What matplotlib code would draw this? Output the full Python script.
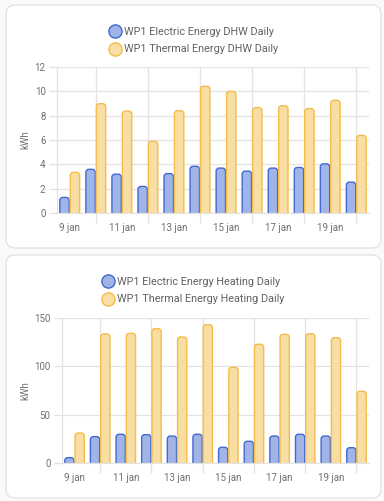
import matplotlib
matplotlib.use("Agg")
import matplotlib.pyplot as plt
from matplotlib.patches import FancyBboxPatch
from matplotlib.lines import Line2D
import numpy as np

plt.rcParams['font.family'] = ['Roboto', 'DejaVu Sans']

days = [9, 10, 11, 12, 13, 14, 15, 16, 17, 18, 19, 20]
tick_days = [9, 11, 13, 15, 17, 19]
tick_labels = ["9 jan", "11 jan", "13 jan", "15 jan", "17 jan", "19 jan"]
grid_days = [10, 12, 14, 16, 18, 20]

dhw_names = ["WP1 Electric Energy DHW Daily", "WP1 Thermal Energy DHW Daily"]
dhw_electric = [1.3, 3.6, 3.2, 2.2, 3.25, 3.85, 3.7, 3.45, 3.7, 3.75, 4.05, 2.55]
dhw_thermal = [3.35, 8.97, 8.37, 5.9, 8.4, 10.4, 9.98, 8.65, 8.8, 8.57, 9.25, 6.38]
dhw_yticks = [0, 2, 4, 6, 8, 10, 12]

heat_names = ["WP1 Electric Energy Heating Daily", "WP1 Thermal Energy Heating Daily"]
heat_electric = [5.8, 27.5, 29.9, 29.5, 28.1, 29.9, 16.5, 22.7, 28.1, 29.9, 28.1, 16.1]
heat_thermal = [31.2, 133.2, 133.9, 138.7, 130.1, 142.8, 98.9, 122.6, 132.9, 133.5, 129.4, 74.2]
heat_yticks = [0, 50, 100, 150]

BLUE_EDGE = "#4269d0"
BLUE_FILL = "#a0b4e7"
ORANGE_EDGE = "#f4bd4a"
ORANGE_FILL = "#f9dea4"
GRID = "#e3e3e3"
TXT = "#6f6f6f"
LEG = "#626262"

W, H = 384, 501
fig = plt.figure(figsize=(W / 100, H / 100), dpi=100)
fig.patch.set_facecolor("#fafafa")


def card(y_top, y_bot):
    p = FancyBboxPatch((6 / 100, (H - y_bot) / 100), 375 / 100, (y_bot - y_top) / 100,
                       boxstyle="round,pad=0,rounding_size=0.09",
                       transform=fig.dpi_scale_trans, facecolor="white",
                       edgecolor="#e2e2e2", linewidth=0.9, zorder=-10)
    fig.patches.append(p)


def panel(left_px, top_px, right_px, bot_px, elec, therm, names, yticks, label_x_px, leg_y):
    ax = fig.add_axes([left_px / W, (H - bot_px) / H, (right_px - left_px) / W, (bot_px - top_px) / H])
    ax.set_facecolor("none")
    ax.set_zorder(1)
    x = np.array(days, dtype=float)
    bw = 0.36
    ax.set_xlim(days[0] - 0.5, days[-1] + 0.5)
    ax.set_ylim(yticks[0], yticks[-1])
    wpx = right_px - left_px
    hpx = bot_px - top_px
    xu = (days[-1] - days[0] + 1) / wpx
    yu = (yticks[-1] - yticks[0]) / hpx
    r = 3.0 * xu
    for vals, off, fc, ec in [(elec, -0.2, BLUE_FILL, BLUE_EDGE), (therm, 0.2, ORANGE_FILL, ORANGE_EDGE)]:
        bars = ax.bar(x + off, vals, width=bw, color=fc, edgecolor=ec, linewidth=1.0)
        for b in bars:
            bx, by, bwid, bh = b.get_x(), b.get_y(), b.get_width(), b.get_height()
            b.set_visible(False)
            ext = 6 * yu
            fp = FancyBboxPatch((bx, by - ext), bwid, bh + ext,
                                boxstyle=f"round,pad=0,rounding_size={r}",
                                mutation_aspect=yu / xu,
                                facecolor=fc, edgecolor=ec, linewidth=1.0, zorder=2)
            ax.add_patch(fp)
    ax.set_xticks(tick_days)
    ax.set_xticklabels(tick_labels)
    ax.set_xticks(grid_days, minor=True)
    ax.tick_params(axis="x", which="major", length=0, pad=7, labelsize=7.0, labelcolor=TXT)
    ax.tick_params(axis="x", which="minor", length=7, color=GRID, width=0.9)
    ax.grid(True, axis="x", which="minor", color=GRID, linewidth=0.9, zorder=0)
    ax.set_yticks(yticks)
    ax.tick_params(axis="y", length=6, color=GRID, width=0.9, pad=2, labelsize=7.0, labelcolor=TXT)
    ax.grid(True, axis="y", which="major", color=GRID, linewidth=0.9, zorder=0)
    ax.set_axisbelow(True)
    for s in ["top", "right"]:
        ax.spines[s].set_visible(False)
    for s in ["left", "bottom"]:
        ax.spines[s].set_color(GRID)
        ax.spines[s].set_linewidth(0.9)
    ax.set_ylabel("kWh", fontsize=7.0, color=TXT)
    ax.yaxis.set_label_coords((label_x_px - left_px) / wpx, 0.5)

    handles = [Line2D([], [], marker="o", linestyle="", markersize=9.5, markerfacecolor=BLUE_FILL,
                      markeredgecolor=BLUE_EDGE, markeredgewidth=1.0),
               Line2D([], [], marker="o", linestyle="", markersize=9.5, markerfacecolor=ORANGE_FILL,
                      markeredgecolor=ORANGE_EDGE, markeredgewidth=1.0)]
    leg = fig.legend(handles, names, loc="center", bbox_to_anchor=(194 / W, 1 - leg_y / H),
                     frameon=False, fontsize=7.8, handlelength=0.9, handletextpad=0.35,
                     labelspacing=0.68, borderpad=0)
    for t in leg.get_texts():
        t.set_color(LEG)
    return ax


card(5, 248)
card(255, 498)
panel(56.7, 66.7, 369.3, 213.3, dhw_electric, dhw_thermal, dhw_names, dhw_yticks, 30.0, 40.8)
panel(61.7, 317.7, 369.3, 463.3, heat_electric, heat_thermal, heat_names, heat_yticks, 30.0, 290.8)

fig.savefig("out.png", dpi=100, facecolor=fig.get_facecolor())
